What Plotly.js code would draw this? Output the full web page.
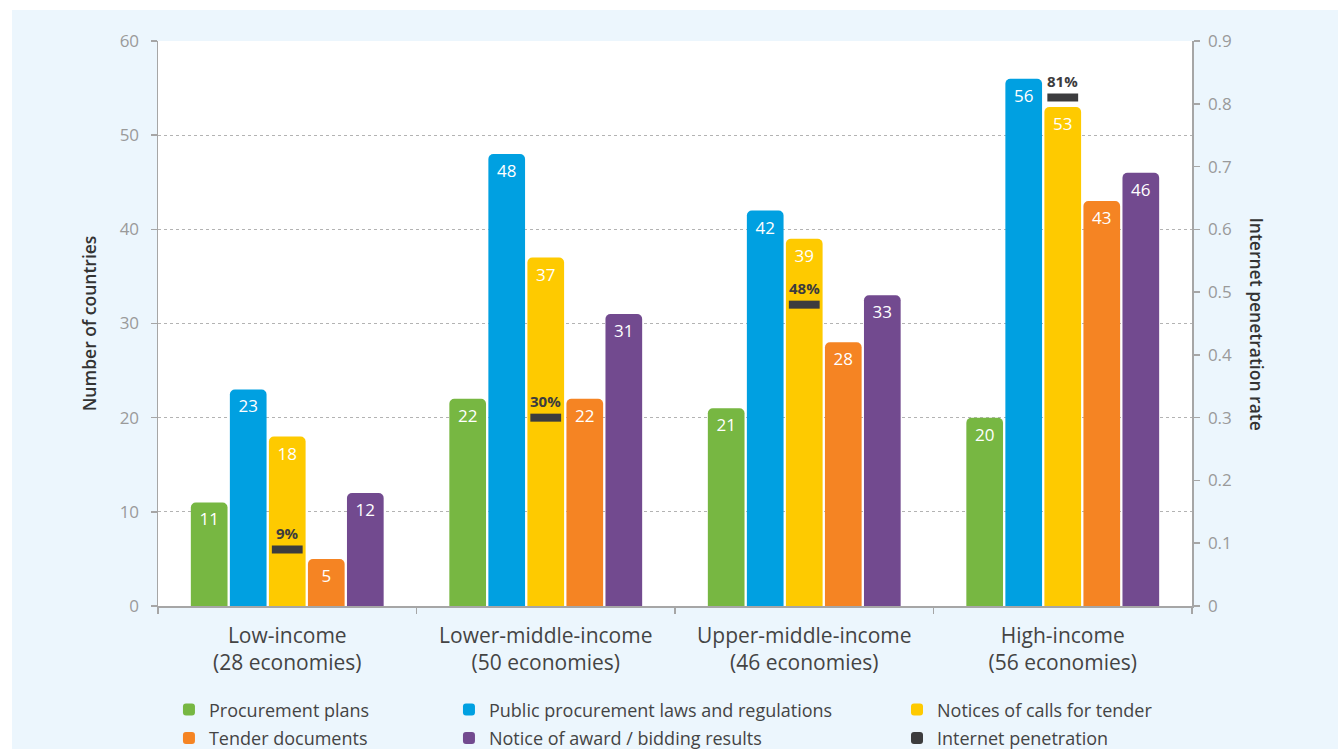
<!DOCTYPE html>
<html>
<head>
<meta charset="utf-8">
<script src="https://cdn.plot.ly/plotly-3.0.1.min.js"></script>
<style>
  html, body { margin: 0; padding: 0; background: #ffffff; width: 1338px; height: 749px; overflow: hidden; }
  #chart { position: absolute; left: 12px; top: 10px; width: 1326px; height: 739px; }
</style>
</head>
<body>
<div id="chart"></div>
<script>
// ---- Data ----
const categories = [
  "Low-income<br>(28 economies)",
  "Lower-middle-income<br>(50 economies)",
  "Upper-middle-income<br>(46 economies)",
  "High-income<br>(56 economies)"
];
const procurementPlans = [11, 22, 21, 20];
const procurementLaws = [23, 48, 42, 56];
const callsForTender = [18, 37, 39, 53];
const tenderDocuments = [5, 22, 28, 43];
const noticeOfAward = [12, 31, 33, 46];
const internetPenetration = [0.09, 0.30, 0.48, 0.81];
const internetLabels = ["9%", "30%", "48%", "81%"];

const seriesNames = [
  "Procurement plans",
  "Public procurement laws and regulations",
  "Notices of calls for tender",
  "Tender documents",
  "Notice of award / bidding results",
  "Internet penetration"
];

// ---- Styling ----
const FONT = "Open Sans, Noto Sans, DejaVu Sans, sans-serif";
const colors = ["#77B742", "#00A0E1", "#FECA00", "#F58423", "#724A8F", "#3C3C3E"];
const legendAssign = [
  ["legend", "g1"], ["legend2", "g1"], ["legend3", "g1"],
  ["legend", "g2"], ["legend2", "g2"], ["legend3", "g2"]
];

const barSeries = [procurementPlans, procurementLaws, callsForTender, tenderDocuments, noticeOfAward];

const traces = barSeries.map((vals, i) => ({
  type: "bar",
  name: seriesNames[i],
  x: categories,
  y: vals,
  text: vals.map(String),
  textposition: "inside",
  insidetextanchor: "end",
  textangle: 0,
  constraintext: "none",
  insidetextfont: { family: FONT, size: 17, color: "#ffffff" },
  marker: { color: colors[i], line: { width: 0 } },
  legend: legendAssign[i][0],
  legendgroup: legendAssign[i][1],
  hoverinfo: "skip"
}));

// Internet penetration markers (right axis)
traces.push({
  type: "scatter",
  mode: "markers",
  name: seriesNames[5],
  x: categories,
  y: internetPenetration,
  yaxis: "y2",
  marker: { symbol: "line-ew", size: 22, line: { width: 8, color: colors[5] }, color: colors[5] },
  showlegend: false,
  hoverinfo: "skip"
});

// Legend entry for Internet penetration (swatch)
traces.push({
  type: "bar",
  name: seriesNames[5],
  x: [categories[0]],
  y: [null],
  yaxis: "y2",
  marker: { color: colors[5] },
  legend: legendAssign[5][0],
  legendgroup: legendAssign[5][1],
  hoverinfo: "skip"
});

// Percentage labels above the markers
const penetrationAnnotations = categories.map((c, i) => ({
  x: c,
  y: internetPenetration[i],
  xref: "x",
  yref: "y2",
  text: internetLabels[i],
  showarrow: false,
  yshift: 17,
  xanchor: "center",
  yanchor: "middle",
  font: { family: FONT, size: 15, color: "#3C3C3E", weight: "bold" }
}));

const legendBase = {
  orientation: "v",
  bgcolor: "rgba(0,0,0,0)",
  font: { family: FONT, size: 18, color: "#444444" },
  xanchor: "left",
  yanchor: "top",
  y: -0.151,
  tracegroupgap: 2,
  traceorder: "grouped"
};

const layout = {
  width: 1326,
  height: 739,
  margin: { l: 146, r: 146, t: 31, b: 143, autoexpand: false },
  paper_bgcolor: "#ECF6FD",
  plot_bgcolor: "#ffffff",
  font: { family: FONT, color: "#444444" },
  barmode: "group",
  bargap: 0.245,
  bargroupgap: 0.06,
  barcornerradius: 5,
  showlegend: true,
  legend: Object.assign({}, legendBase, { x: 0.0106 }),
  legend2: Object.assign({}, legendBase, { x: 0.2814 }),
  legend3: Object.assign({}, legendBase, { x: 0.7147 }),
  xaxis: {
    type: "category",
    tickson: "boundaries",
    ticks: "outside",
    ticklen: 6,
    tickcolor: "#a6a6a6",
    tickwidth: 1.5,
    showline: true,
    linecolor: "#a6a6a6",
    linewidth: 1.5,
    showgrid: false,
    tickfont: { family: FONT, size: 21, color: "#444444" },
    ticklabelstandoff: 10,
    fixedrange: true
  },
  yaxis: {
    range: [0, 60],
    dtick: 10,
    ticks: "outside",
    ticklen: 6,
    tickcolor: "#a6a6a6",
    tickwidth: 1.5,
    showline: true,
    linecolor: "#a6a6a6",
    linewidth: 1.5,
    showgrid: true,
    gridcolor: "#b3b3b3",
    gridwidth: 1,
    griddash: "dot",
    zeroline: false,
    tickfont: { family: FONT, size: 17, color: "#9a9a9a" },
    ticklabelstandoff: 8,
    title: { text: "Number of countries", font: { family: FONT, size: 17.5, color: "#333333", weight: 600 }, standoff: 18 },
    fixedrange: true
  },
  yaxis2: {
    overlaying: "y",
    side: "right",
    range: [0, 0.9],
    dtick: 0.1,
    ticks: "outside",
    ticklen: 6,
    tickcolor: "#a6a6a6",
    tickwidth: 1.5,
    showline: true,
    linecolor: "#a6a6a6",
    linewidth: 1.5,
    showgrid: false,
    zeroline: false,
    tickfont: { family: FONT, size: 17, color: "#9a9a9a" },
    ticklabelstandoff: 5,
    fixedrange: true
  },
  annotations: penetrationAnnotations.concat([{
    text: "Internet penetration rate",
    xref: "paper", yref: "paper",
    x: 1.0629, y: 0.5,
    xanchor: "center", yanchor: "middle",
    textangle: 90,
    showarrow: false,
    font: { family: FONT, size: 17.5, color: "#333333", weight: 600 }
  }])
};

Plotly.newPlot("chart", traces, layout, { displayModeBar: false, staticPlot: true });
</script>
</body>
</html>
